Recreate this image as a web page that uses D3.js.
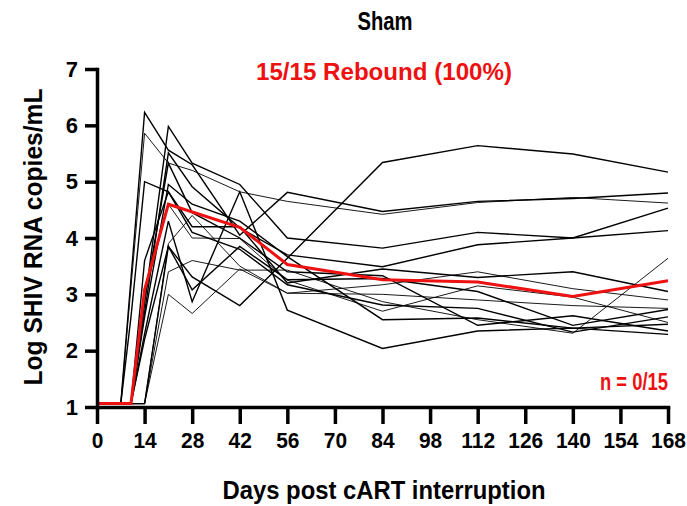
<!DOCTYPE html>
<html><head><meta charset="utf-8">
<script src="https://cdn.jsdelivr.net/npm/d3@7"></script>
<style>
body{margin:0;background:#fff}
text{font-family:"Liberation Sans",Arial,Helvetica,sans-serif;font-weight:bold}
</style>
</head><body>
<svg id="chart" width="687" height="506"></svg>
<script>
// ---- data ----
const days = [0, 7, 10, 14, 21, 28, 42, 56, 84, 112, 140, 168];
const B = 1.06;
const s1  = [B, B, B,    B,    3.85, 3.31, 2.80, 3.64, 5.34, 5.64, 5.49, 5.17];
const s2  = [B, B, 3.28, 6.23, 5.56, 5.30, 4.05, 4.81, 4.47, 4.65, 4.70, 4.80];
const s3  = [B, B, 3.13, 5.86, 5.33, 5.20, 4.82, 4.65, 4.42, 4.63, 4.72, 4.62];
const s4  = [B, B, B,    2.85, 5.98, 5.33, 4.95, 4.00, 3.82, 4.10, 4.00, 4.53];
const s5  = [B, B, B,    2.68, 5.51, 4.91, 4.18, 3.70, 3.49, 3.88, 4.00, 4.13];
const s6  = [B, B, B,    B,    3.40, 3.60, 3.43, 3.43, 2.87, 2.55, 2.31, 3.64];
const s7  = [B, B, 2.60, 5.00, 4.82, 4.20, 4.20, 3.20, 3.45, 3.30, 3.40, 3.05];
const s8  = [B, B, B,    2.20, 3.85, 3.08, 3.85, 3.26, 3.28, 3.05, 2.45, 2.73];
const s9  = [B, B, B,    B,    3.00, 2.66, 3.45, 3.02, 3.00, 2.90, 2.80, 2.75];
const s10 = [B, B, B,    3.60, 4.82, 4.10, 3.80, 3.17, 2.81, 2.75, 2.33, 2.60];
const s11 = [B, B, B,    2.60, 4.95, 4.60, 4.30, 3.67, 2.55, 2.58, 2.40, 2.47];
const s12 = [B, B, B,    3.00, 4.60, 4.00, 3.99, 3.25, 2.70, 3.15, 2.95, 2.50];
const s13 = [B, B, B,    2.90, 5.33, 4.45, 4.00, 3.40, 3.33, 2.45, 2.62, 2.35];
const s14 = [B, B, B,    2.30, 4.30, 2.87, 4.82, 2.72, 2.04, 2.35, 2.40, 2.29];
const s15 = [B, B, B,    B,    3.90, 4.40, 3.50, 3.02, 3.17, 3.40, 3.10, 2.90];
const animals = [s1, s2, s3, s4, s5, s6, s7, s8, s9, s10, s11, s12, s13, s14, s15];

const meanDays   = [0, 10, 14, 21, 42, 56, 84, 112, 140, 168];
const meanValues = [B, B, 3.08, 4.60, 4.19, 3.53, 3.26, 3.22, 2.96, 3.24];

const xTicks = [0, 14, 28, 42, 56, 70, 84, 98, 112, 126, 140, 154, 168];
const yTicks = [1, 2, 3, 4, 5, 6, 7];

const titleText = "Sham";
const reboundText = "15/15 Rebound (100%)";
const nText = "n = 0/15";
const xLabel = "Days post cART interruption";
const yLabel = "Log SHIV RNA copies/mL";

// ---- drawing ----
const svg = d3.select("#chart");
const RED = "#ee1111";
const x = d3.scaleLinear().domain([0, 168]).range([97, 668]);
const y = d3.scaleLinear().domain([1, 7]).range([407, 69]);

const line = d3.line().x(d => x(d[0])).y(d => y(d[1]));

const g = svg.append("g");
animals.forEach((s, i) => {
  g.append("path")
    .datum(days.map((d, j) => [d, s[j]]))
    .attr("d", line)
    .attr("fill", "none")
    .attr("stroke", "#000")
    .attr("stroke-width", i % 3 === 2 ? 0.9 : 1.4)
    .attr("stroke-linejoin", "miter");
});

g.append("path")
  .datum(meanDays.map((d, j) => [d, meanValues[j]]))
  .attr("d", line)
  .attr("fill", "none")
  .attr("stroke", RED)
  .attr("stroke-width", 3);

// axes
const xAxis = svg.append("g").attr("transform", `translate(0,${y(1)})`)
  .call(d3.axisBottom(x).tickValues(xTicks).tickSize(17).tickSizeOuter(0).tickPadding(8));
const yAxis = svg.append("g").attr("transform", `translate(${x(0)},0)`)
  .call(d3.axisLeft(y).tickValues(yTicks).tickFormat(d3.format("d")).tickSize(12).tickSizeOuter(0).tickPadding(7));

[xAxis, yAxis].forEach(a => {
  a.select(".domain").attr("stroke", "#000").attr("stroke-width", 3.5).attr("stroke-linecap", "square");
  a.selectAll(".tick line").attr("stroke", "#000").attr("stroke-width", 3.5);
  a.selectAll(".tick text").attr("fill", "#000").style("font-size", "22px")
    .style("font-family", '"Liberation Sans", Arial, sans-serif').style("font-weight", "bold");
});
xAxis.selectAll(".tick text").each(function () {
  const w = this.getComputedTextLength();
  d3.select(this).attr("textLength", w * 0.95).attr("lengthAdjust", "spacingAndGlyphs");
});

// texts
function label(txt, px, py, size, len, color, anchor) {
  const t = svg.append("text").attr("x", px).attr("y", py)
    .attr("text-anchor", anchor || "middle")
    .attr("fill", color || "#000")
    .style("font-size", size + "px")
    .text(txt);
  if (len) t.attr("textLength", len).attr("lengthAdjust", "spacingAndGlyphs");
  return t;
}
label(titleText, 385, 30, 25, 55);
label(reboundText, 384, 80, 23, 256, RED);
label(nText, 668, 390, 23, 68, RED, "end");
label(xLabel, 384, 499, 25, 323);

svg.append("text")
  .attr("transform", `translate(42,237) rotate(-90)`)
  .attr("text-anchor", "middle")
  .style("font-size", "25px")
  .attr("textLength", 297).attr("lengthAdjust", "spacingAndGlyphs")
  .text(yLabel);
</script>
</body></html>
